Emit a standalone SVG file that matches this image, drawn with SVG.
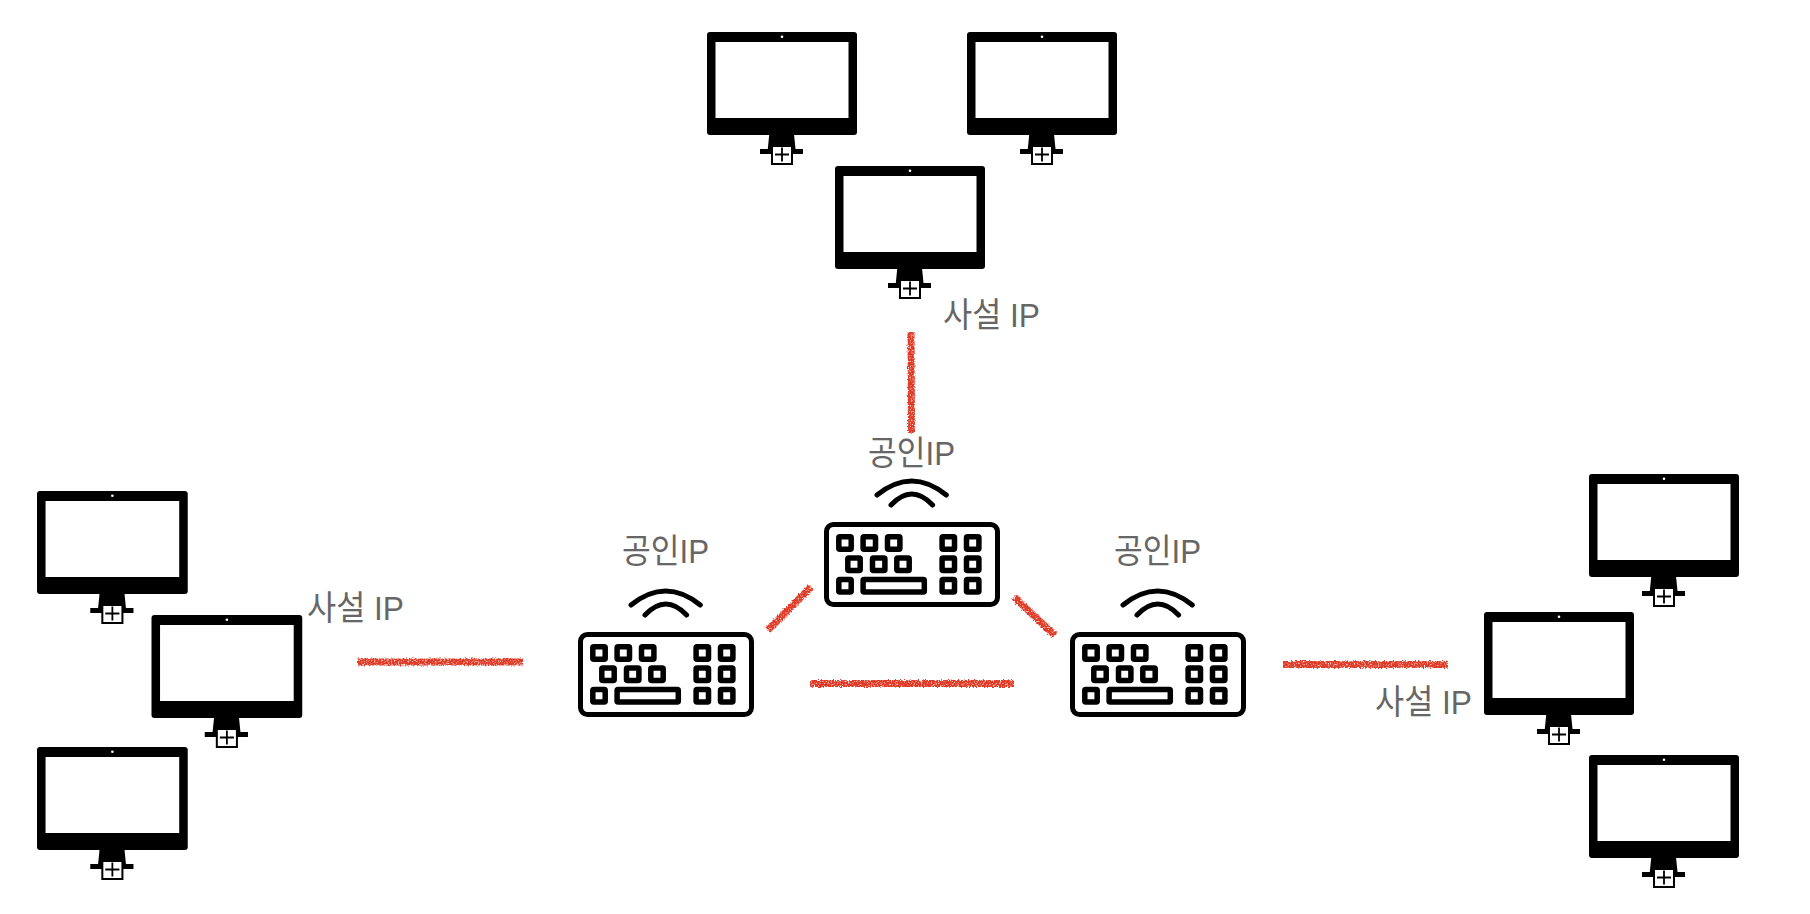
<svg xmlns="http://www.w3.org/2000/svg" width="1810" height="914" viewBox="0 0 1810 914">
<style>
.lbl{font-family:"Liberation Sans","Noto Sans CJK KR",sans-serif;font-size:34px;fill:#666}
.wire{stroke:#e03a26;stroke-width:7;fill:none;filter:url(#rough)}
.k{fill:#fff;stroke:#000;stroke-width:5.5;stroke-linejoin:round}
.arc{fill:none;stroke:#000;stroke-width:5;stroke-linecap:round}
</style>
<defs>
<filter id="rough" filterUnits="userSpaceOnUse" x="0" y="0" width="1810" height="914">
<feTurbulence type="fractalNoise" baseFrequency="0.7" numOctaves="2" seed="4" result="n"/>
<feDisplacementMap in="SourceGraphic" in2="n" scale="4" xChannelSelector="R" yChannelSelector="G" result="d"/>
<feColorMatrix in="n" type="matrix" values="0 0 0 0 0 0 0 0 0 0 0 0 0 0 0 3 0 0 0 -0.45" result="m"/>
<feComposite in="d" in2="m" operator="in"/>
</filter>
<filter id="soft" x="-5%" y="-5%" width="110%" height="110%"><feGaussianBlur stdDeviation="0.35"/></filter>
<g id="monitor">
<path d="M62.3 102H87L88.5 117H96V122H53V117H60.8Z" fill="#000"/>
<rect width="150" height="103" rx="3" fill="#000"/>
<rect x="8.5" y="10" width="133" height="76" fill="#fff"/>
<circle cx="75" cy="4.7" r="1.3" fill="#fff"/>
<rect x="65" y="114" width="20" height="18" fill="#fff" stroke="#000" stroke-width="2"/>
<path d="M68 122.500H82M75 115.500V129.500" stroke="#000" stroke-width="1.8" fill="none"/>
</g>
<g id="keyboard" filter="url(#soft)">
<path class="arc" d="M53 -27Q87.700 -55 122.300 -27M67 -17Q87.800 -39 108.600 -17"/>
<rect x="2.500" y="2.500" width="171" height="80" rx="7" fill="#fff" stroke="#000" stroke-width="5"/>
<rect class="k" x="14.800" y="14.800" width="12.400" height="12.400" rx="1"/>
<rect class="k" x="39.100" y="14.800" width="12.400" height="12.400" rx="1"/>
<rect class="k" x="63.500" y="14.800" width="12.400" height="12.400" rx="1"/>
<rect class="k" x="118.100" y="14.800" width="12.400" height="12.400" rx="1"/>
<rect class="k" x="142.500" y="14.800" width="12.400" height="12.400" rx="1"/>
<rect class="k" x="23.800" y="36.100" width="12.400" height="12.400" rx="1"/>
<rect class="k" x="48.500" y="36.100" width="12.400" height="12.400" rx="1"/>
<rect class="k" x="72.800" y="36.100" width="12.400" height="12.400" rx="1"/>
<rect class="k" x="118.100" y="36.100" width="12.400" height="12.400" rx="1"/>
<rect class="k" x="142.500" y="36.100" width="12.400" height="12.400" rx="1"/>
<rect class="k" x="14.800" y="57.500" width="12.400" height="12.400" rx="1"/>
<rect class="k" x="39.100" y="57.500" width="61.200" height="12.400" rx="1"/>
<rect class="k" x="118.100" y="57.500" width="12.400" height="12.400" rx="1"/>
<rect class="k" x="142.500" y="57.500" width="12.400" height="12.400" rx="1"/>
</g>
</defs>
<rect width="1810" height="914" fill="#fff"/>
<g id="connectors">
<path class="wire" d="M911 332L911.500 433"/>
<path class="wire" d="M358 662H523"/>
<path class="wire" d="M810 683.500H1014"/>
<path class="wire" d="M1283 664.500H1448"/>
<path class="wire" d="M768 630L811 587"/>
<path class="wire" d="M1014 597L1055 635.500"/>
</g>
<g id="pc-top-left"><use href="#monitor" x="707" y="32"/></g>
<g id="pc-top-right"><use href="#monitor" x="967" y="32"/></g>
<g id="pc-top-center"><use href="#monitor" x="835" y="166"/></g>
<g id="pc-left-1"><use href="#monitor" transform="translate(37 491) scale(1.005 1)"/></g>
<g id="pc-left-2"><use href="#monitor" transform="translate(151.500 615) scale(1.005 1)"/></g>
<g id="pc-left-3"><use href="#monitor" transform="translate(37 747) scale(1.005 1)"/></g>
<g id="pc-right-1"><use href="#monitor" x="1589" y="474"/></g>
<g id="pc-right-2"><use href="#monitor" x="1484" y="612"/></g>
<g id="pc-right-3"><use href="#monitor" x="1589" y="755"/></g>
<g id="router-top"><use href="#keyboard" x="824" y="522"/><text class="lbl" x="868" y="465" textLength="87" lengthAdjust="spacingAndGlyphs">공인IP</text></g>
<g id="router-left"><use href="#keyboard" x="578" y="632"/><text class="lbl" x="622" y="563" textLength="87" lengthAdjust="spacingAndGlyphs">공인IP</text></g>
<g id="router-right"><use href="#keyboard" x="1070" y="632"/><text class="lbl" x="1114" y="563" textLength="87" lengthAdjust="spacingAndGlyphs">공인IP</text></g>
<g id="label-private-top"><text class="lbl" x="943" y="327" textLength="97" lengthAdjust="spacingAndGlyphs">사설 IP</text></g>
<g id="label-private-left"><text class="lbl" x="307" y="620" textLength="97" lengthAdjust="spacingAndGlyphs">사설 IP</text></g>
<g id="label-private-right"><text class="lbl" x="1375" y="714" textLength="97" lengthAdjust="spacingAndGlyphs">사설 IP</text></g>
</svg>
